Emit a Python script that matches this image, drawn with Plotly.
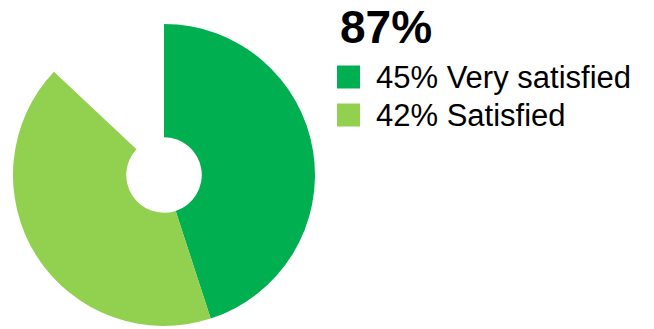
import plotly.graph_objects as go

labels = ["Very satisfied", "Satisfied", "Other"]
values = [45, 42, 13]
colors = ["#00B050", "#92D050", "rgba(0,0,0,0)"]
total_label = "87%"
legend_labels = ["45% Very satisfied", "42% Satisfied"]
legend_colors = ["#00B050", "#92D050"]

W, H = 654, 329
cx, cy, r = 164, 175, 151

fig = go.Figure(go.Pie(
    labels=labels, values=values, sort=False, direction="clockwise", rotation=0,
    hole=0.25, marker=dict(colors=colors, line=dict(width=0)),
    textinfo="none", hoverinfo="label+value", showlegend=False,
    domain=dict(x=[(cx - r) / W, (cx + r) / W], y=[1 - (cy + r) / H, 1 - (cy - r) / H]),
))

font = "Liberation Sans, Arial, sans-serif"
fig.add_annotation(x=338 / W, y=1 - 26.5 / H, xref="paper", yref="paper", xanchor="left", yanchor="middle",
                   text="<b>" + total_label + "</b>", showarrow=False, font=dict(family=font, size=46, color="#000"))

for i, (lab, col) in enumerate(zip(legend_labels, legend_colors)):
    yc = 77 + i * 38
    x0, x1 = 337 / W, 360 / W
    y0, y1 = 1 - (yc + 11.5) / H, 1 - (yc - 11.5) / H
    fig.add_shape(type="rect", xref="paper", yref="paper", x0=x0, x1=x1, y0=y0, y1=y1,
                  fillcolor=col, line=dict(width=0))
    fig.add_annotation(x=374 / W, y=1 - yc / H, xref="paper", yref="paper", xanchor="left", yanchor="middle",
                       text=lab, showarrow=False, font=dict(family=font, size=31, color="#000"))

fig.update_layout(width=W, height=H, margin=dict(l=0, r=0, t=0, b=0),
                  paper_bgcolor="white", plot_bgcolor="white")
fig.write_html("out.html")
